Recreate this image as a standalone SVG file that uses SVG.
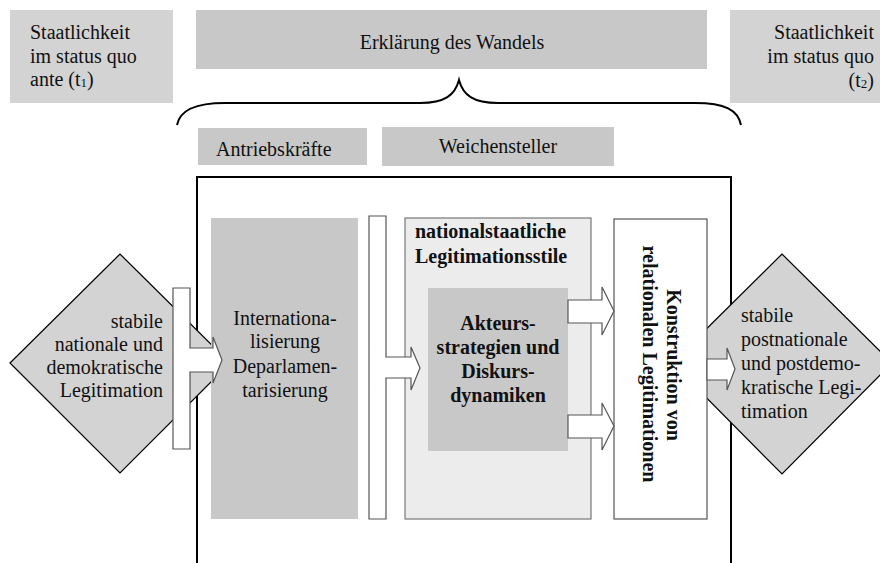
<svg xmlns="http://www.w3.org/2000/svg" width="880" height="563" viewBox="0 0 880 563">
<style>
text{font-family:"Liberation Serif","Times New Roman",serif;font-size:20px;fill:#111}
.b{font-weight:bold}
.lg{fill:#d3d3d3}
.mg{fill:#c8c8c8}
.dia{fill:#d3d3d3;stroke:#000;stroke-width:1.2}
.wh{fill:#fff;stroke:#555;stroke-width:1.2}
.mid{text-anchor:middle}
.end{text-anchor:end}
</style>
<rect width="880" height="563" fill="#fff"/>
<g id="status-t1"><rect class="lg" x="10" y="10" width="163" height="93"/>
<text x="30" y="39">Staatlichkeit</text><text x="30" y="63">im status quo</text><text x="30" y="86">ante (t<tspan font-size="13" dy="1">1</tspan><tspan dy="-1">)</tspan></text></g>
<g id="erklaerung"><rect class="mg" x="196" y="10" width="511" height="59"/>
<text class="mid" x="452" y="49" font-size="21">Erklärung des Wandels</text></g>
<g id="status-t2"><rect class="lg" x="730" y="10" width="150" height="93"/>
<text class="end" x="874" y="39">Staatlichkeit</text><text class="end" x="874" y="63">im status quo</text><text class="end" x="874" y="87">(t<tspan font-size="13" dy="1">2</tspan><tspan dy="-1">)</tspan></text></g>
<g id="brace"><path d="M177,125 C180,110 195,103 225,103 L420,103 C445,103 455,95 459,80 C463,95 473,103 498,103 L695,103 C725,103 738,110 741,125" fill="none" stroke="#000" stroke-width="2"/></g>
<g id="antriebskraefte"><rect class="mg" x="198" y="128" width="169" height="37"/><text x="216" y="156">Antriebskräfte</text></g>
<g id="weichensteller"><rect class="mg" x="382" y="127" width="232" height="39"/><text class="mid" x="498" y="153">Weichensteller</text></g>
<g id="frame"><path d="M197,563 V177 H731 V563" fill="none" stroke="#000" stroke-width="2"/></g>
<g id="diamond-left"><polygon class="dia" points="10,363 120,254 230,363 120,473"/>
<text class="end" x="163" y="328">stabile</text><text class="end" x="163" y="351">nationale und</text><text class="end" x="163" y="374">demokratische</text><text class="end" x="163" y="397">Legitimation</text></g>
<g id="diamond-right"><polygon class="dia" points="672,363 782,254 892,363 782,474"/>
<text x="741" y="322">stabile</text><text x="741" y="346">postnationale</text><text x="741" y="370">und postdemo-</text><text x="741" y="394">kratische Legi-</text><text x="741" y="418">timation</text></g>
<g id="antriebe"><rect class="mg" x="211" y="218" width="147" height="301"/>
<text class="mid" x="285" y="325">Internationa-</text><text class="mid" x="285" y="348">lisierung</text><text class="mid" x="285" y="373">Deparlamen-</text><text class="mid" x="285" y="397">tarisierung</text></g>
<g id="legitimationsstile"><rect x="405" y="218" width="186" height="301" fill="#ececec" stroke="#777" stroke-width="1.2"/>
<text class="b" x="415" y="238">nationalstaatliche</text><text class="b" x="415" y="263">Legitimationsstile</text></g>
<g id="akteure"><rect class="mg" x="428" y="288" width="140" height="163"/>
<text class="b mid" x="498" y="330">Akteurs-</text><text class="b mid" x="498" y="354">strategien und</text><text class="b mid" x="498" y="378">Diskurs-</text><text class="b mid" x="498" y="402">dynamiken</text></g>
<g id="konstruktion"><rect class="wh" x="614" y="219" width="93" height="300"/>
<text class="b mid" transform="translate(667,365) rotate(90)">Konstruktion von</text>
<text class="b mid" transform="translate(643,364) rotate(90)">relationalen Legitimationen</text></g>
<g id="connectors">
<path class="wh" d="M173,288 H190 V348 H213 V337 L222,360 L213,383 V372 H190 V449 H173 Z"/>
<path class="wh" d="M369,216 H386 V357 H411 V347 L420,368 L411,390 V378 H386 V519 H369 Z"/>
<path class="wh" d="M568,300 H602 V287 L614,311 L602,335 V323 H568 Z"/>
<path class="wh" d="M568,415 H602 V403 L614,426 L602,450 V438 H568 Z"/>
<path class="wh" d="M707,359 H727 V348 L735,369 L727,390 V380 H707 Z"/>
</g>
</svg>
